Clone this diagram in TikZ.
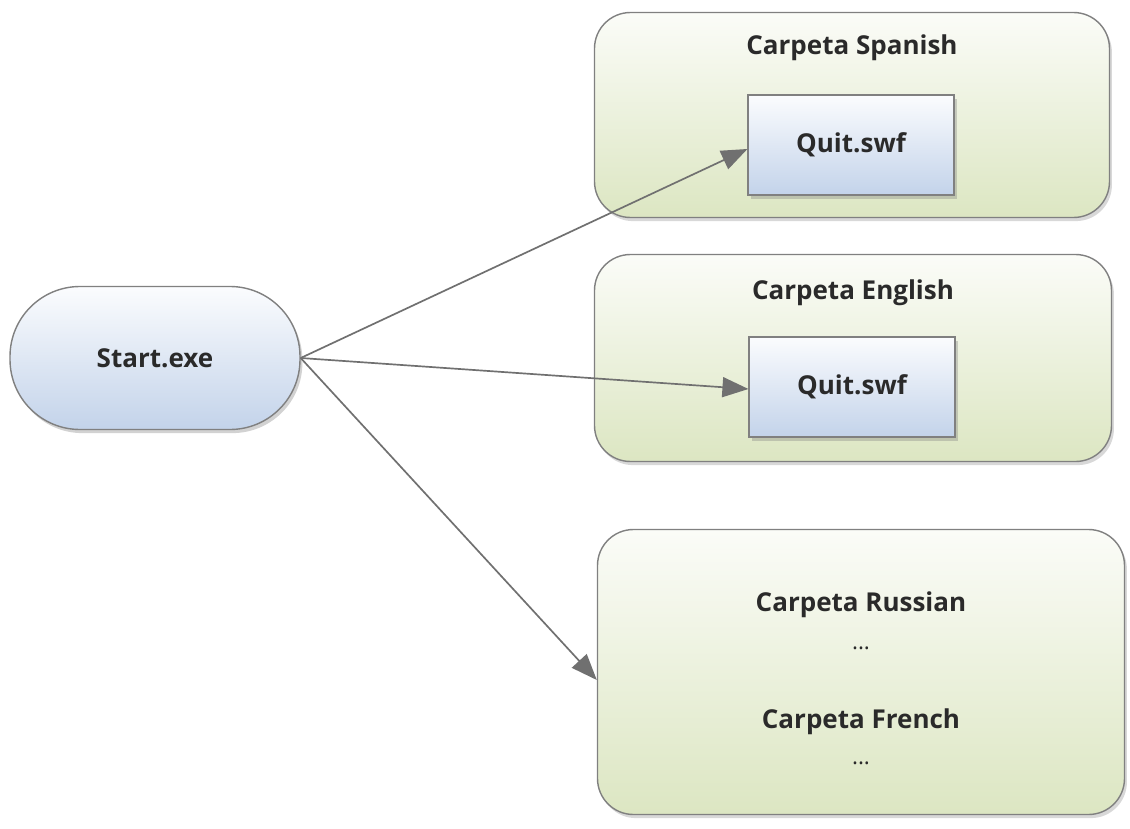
\documentclass[tikz,border=0pt]{standalone}
\usepackage{fontspec}
\setmainfont{Open Sans}
\usetikzlibrary{arrows.meta,positioning,shadows}
\definecolor{Canvas}{HTML}{FFFFFF}
\definecolor{Edge}{HTML}{808080}
\definecolor{BlueTop}{HTML}{FBFCFE}
\definecolor{BlueBottom}{HTML}{C3D3EA}
\definecolor{GreenTop}{HTML}{FBFCF8}
\definecolor{GreenBottom}{HTML}{DCE6C2}
\definecolor{Wire}{HTML}{707070}
\definecolor{Text}{HTML}{2A2A2A}

\begin{document}
\begin{tikzpicture}[
    font=\bfseries\fontsize{18.5}{22}\selectfont,
    text=Text,
    start/.style={
        rounded corners=1.75cm,
        draw=Edge,
        line width=1pt,
        top color=BlueTop,
        bottom color=BlueBottom,
        drop shadow={opacity=0.35,shadow xshift=0.6mm,shadow yshift=-0.9mm},
        minimum width=7.25cm,
        minimum height=3.575cm
    },
    folder/.style={
        rounded corners=0.9cm,
        draw=Edge,
        line width=1pt,
        top color=GreenTop,
        bottom color=GreenBottom,
        drop shadow={opacity=0.3,shadow xshift=0.6mm,shadow yshift=-0.9mm}
    },
    file/.style={
        draw=Edge,
        line width=0.8pt,
        top color=BlueTop,
        bottom color=BlueBottom,
        drop shadow={opacity=0.35,shadow xshift=0.8mm,shadow yshift=-0.9mm},
        minimum width=5.15cm,
        minimum height=2.5cm
    },
    arrow/.style={
        -{Triangle[length=6.5mm,width=5mm]},
        line width=1.2pt,
        draw=Wire
    },
    labeltext/.style={
        text=Text,
        align=center
    },
    dotstext/.style={
        font=\mdseries\fontsize{16}{20}\selectfont,
        text=Text
    }
]

% Background
\fill[Canvas] (0,0) rectangle (28.25,-20.725);

% Start node
\node[start] (start) at (3.875,-8.95) {Start.exe};

% Folder panels
\node[folder, minimum width=12.875cm, minimum height=5.125cm] (spanish) at (21.3,-2.875) {};
\node[folder, minimum width=12.925cm, minimum height=5.175cm] (english) at (21.325,-8.95) {};
\node[folder, minimum width=13.175cm, minimum height=7.125cm] (others) at (21.525,-16.8) {};

% Panel headings
\node[labeltext] (spanishT) at (21.3,-1.2) {Carpeta Spanish};
\node[labeltext] (englishT) at (21.325,-7.325) {Carpeta English};

% Files
\node[file] (quitS) at (21.275,-3.625) {Quit.swf};
\node[file] (quitE) at (21.3,-9.675) {Quit.swf};

% Remaining languages
\node[labeltext] (russian) at (21.525,-15.125) {Carpeta Russian};
\node[dotstext] (dotsR) at (21.525,-16.2) {...};
\node[labeltext] (french) at (21.525,-18.05) {Carpeta French};
\node[dotstext] (dotsF) at (21.525,-19.075) {...};

% Connectors
\draw[arrow] (start.east) -- ([yshift=-0.1cm]quitS.west);
\draw[arrow] (start.east) -- ([yshift=-0.05cm]quitE.west);
\draw[arrow] (start.east) -- ([yshift=-0.2cm]others.west);

\end{tikzpicture}
\end{document}
